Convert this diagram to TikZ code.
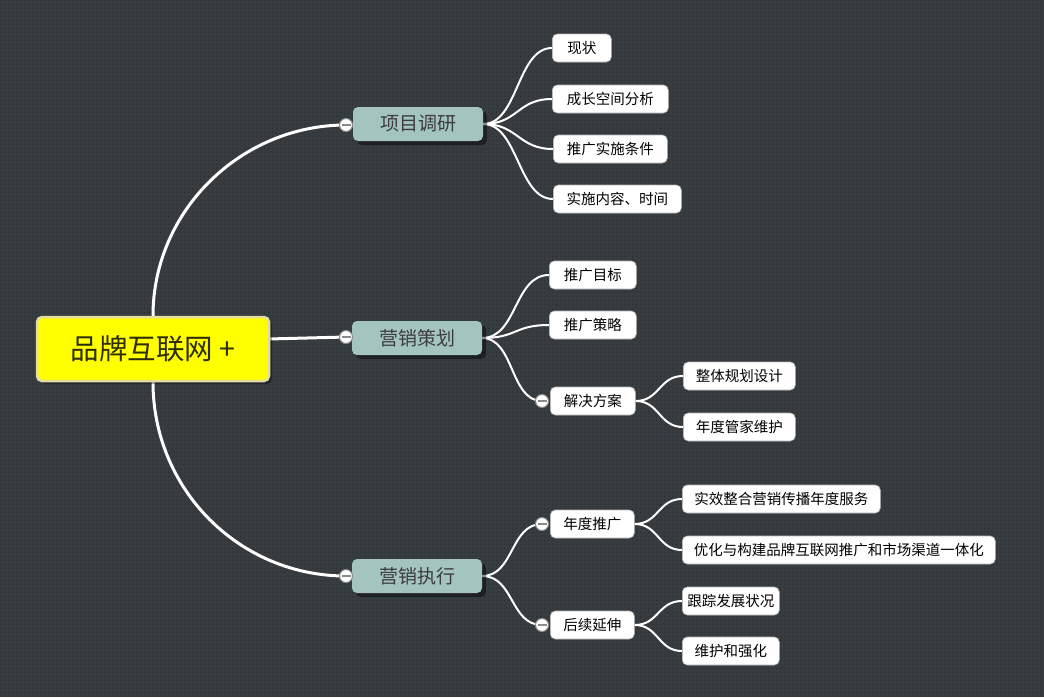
\documentclass[tikz,border=0pt]{standalone}
\usepackage{fontspec}
\setmainfont{Noto Sans CJK SC}
\usetikzlibrary{shadows,patterns.meta}
\definecolor{bgcol}{HTML}{373C40}
\definecolor{dotcol}{HTML}{2C3034}
\definecolor{rootfill}{HTML}{FFFF00}
\definecolor{rootborder}{HTML}{E4DDA2}
\definecolor{roottext}{HTML}{2E2E00}
\definecolor{mainfill}{HTML}{A3C4BF}
\definecolor{maintext}{HTML}{3C3C3C}
\definecolor{leafborder}{HTML}{B8B8B8}
\definecolor{collborder}{HTML}{8A8A8A}
\pgfdeclarelayer{bg}
\pgfdeclarelayer{lines}
\pgfsetlayers{bg,lines,main}
\tikzdeclarepattern{
  name=bgdots,
  type=uncolored,
  bounding box={(0,0) and (4pt,4pt)},
  tile size={(4pt,4pt)},
  code={\pgfpathrectangle{\pgfpoint{1.4pt}{1.4pt}}{\pgfpoint{1.2pt}{1.2pt}}\pgfusepath{fill}}
}
\tikzset{
  rootbox/.style={draw=rootborder, line width=2.5pt, fill=rootfill, rounded corners=5pt,
    minimum width=232pt, minimum height=64pt, inner sep=0pt,
    font=\fontsize{28.5}{32}\selectfont, text=roottext,
    drop shadow={shadow xshift=3pt, shadow yshift=-3pt, opacity=0.35, fill=black}},
  mainbox/.style={fill=mainfill, rounded corners=5pt, minimum width=130pt, minimum height=34pt,
    inner sep=0pt, font=\fontsize{19}{22}\selectfont, text=maintext,
    drop shadow={shadow xshift=4pt, shadow yshift=-4pt, opacity=0.45, fill=black}},
  leafbox/.style={fill=white, draw=leafborder, line width=0.6pt, rounded corners=5pt,
    minimum height=28pt, inner sep=0pt, anchor=west, text=black,
    font=\fontsize{14.5}{17}\selectfont},
  collapser/.style={circle, fill=white, draw=collborder, line width=1pt, minimum size=13pt, inner sep=0pt,
    path picture={\draw[collborder, line width=1.2pt]
      ([xshift=-4.5pt]path picture bounding box.center) -- ([xshift=4.5pt]path picture bounding box.center);}},
  trunk/.style={white, line width=3pt},
  twig/.style={white, line width=2pt},
}
\begin{document}
\begin{tikzpicture}[x=1pt,y=-1pt]
\begin{pgfonlayer}{bg}
\fill[bgcol] (0,0) rectangle (1044,697);
\fill[pattern=bgdots, pattern color=dotcol] (0,0) rectangle (1044,697);
\end{pgfonlayer}
\useasboundingbox (0,0) rectangle (1044,697);

% root
\node[rootbox] (root) at (153,349) {品牌互联网 +};
\coordinate (rootR) at (268,339);

% main branches
\node[mainbox] (m1) at (418,124) {项目调研};
\node[mainbox] (m2) at (417,338) {营销策划};
\node[mainbox] (m3) at (417,576) {营销执行};
\node[collapser] (c1) at (346,125) {};
\node[collapser] (c2) at (346,337) {};
\node[collapser] (c3) at (346,576) {};

% level 2 : 项目调研
\node[leafbox, minimum width=59pt]  (a1) at (552,48)  {现状};
\node[leafbox, minimum width=116pt] (a2) at (552,99)  {成长空间分析};
\node[leafbox, minimum width=114pt] (a3) at (553,149) {推广实施条件};
\node[leafbox, minimum width=128pt] (a4) at (553,199) {实施内容、时间};

% level 2 : 营销策划
\node[leafbox, minimum width=87pt] (b1) at (549,275) {推广目标};
\node[leafbox, minimum width=87pt] (b2) at (549,325) {推广策略};
\node[leafbox, minimum width=85pt] (b3) at (550,401) {解决方案};
\node[collapser] (cb3) at (542,401) {};
\node[leafbox, minimum width=112pt] (b31) at (683,376) {整体规划设计};
\node[leafbox, minimum width=112pt] (b32) at (683,427) {年度管家维护};

% level 2 : 营销执行
\node[leafbox, minimum width=84pt] (d1) at (550,524) {年度推广};
\node[collapser] (cd1) at (542,524) {};
\node[leafbox, minimum width=84pt] (d2) at (550,625) {后续延伸};
\node[collapser] (cd2) at (542,625) {};
\node[leafbox, minimum width=198pt] (d11) at (682,499) {实效整合营销传播年度服务};
\node[leafbox, minimum width=313pt] (d12) at (682,550) {优化与构建品牌互联网推广和市场渠道一体化};
\node[leafbox, minimum width=97pt]  (d21) at (682,601) {跟踪发展状况};
\node[leafbox, minimum width=97pt]  (d22) at (682,651) {维护和强化};

\begin{pgfonlayer}{lines}
% trunks
\draw[trunk] (root.north) .. controls +(0,-105) and +(-105,0) .. (c1.center);
\draw[trunk] (rootR) -- (c2.center);
\draw[trunk] (root.south) .. controls +(0,107) and +(-107,0) .. (c3.center);
% 项目调研
\foreach \t in {a1,a2,a3,a4}
  \draw[twig] (m1.east) .. controls +(35,0) and +(-35,0) .. (\t.west);
% 营销策划
\foreach \t in {b1,b2}
  \draw[twig] (m2.east) .. controls +(35,0) and +(-35,0) .. (\t.west);
\draw[twig] (m2.east) .. controls +(32,0) and +(-32,0) .. (cb3.center);
\foreach \t in {b31,b32}
  \draw[twig] (b3.east) .. controls +(24,0) and +(-24,0) .. (\t.west);
% 营销执行
\draw[twig] (m3.east) .. controls +(32,0) and +(-32,0) .. (cd1.center);
\draw[twig] (m3.east) .. controls +(32,0) and +(-32,0) .. (cd2.center);
\foreach \t in {d11,d12}
  \draw[twig] (d1.east) .. controls +(24,0) and +(-24,0) .. (\t.west);
\foreach \t in {d21,d22}
  \draw[twig] (d2.east) .. controls +(24,0) and +(-24,0) .. (\t.west);
\end{pgfonlayer}
\end{tikzpicture}
\end{document}
